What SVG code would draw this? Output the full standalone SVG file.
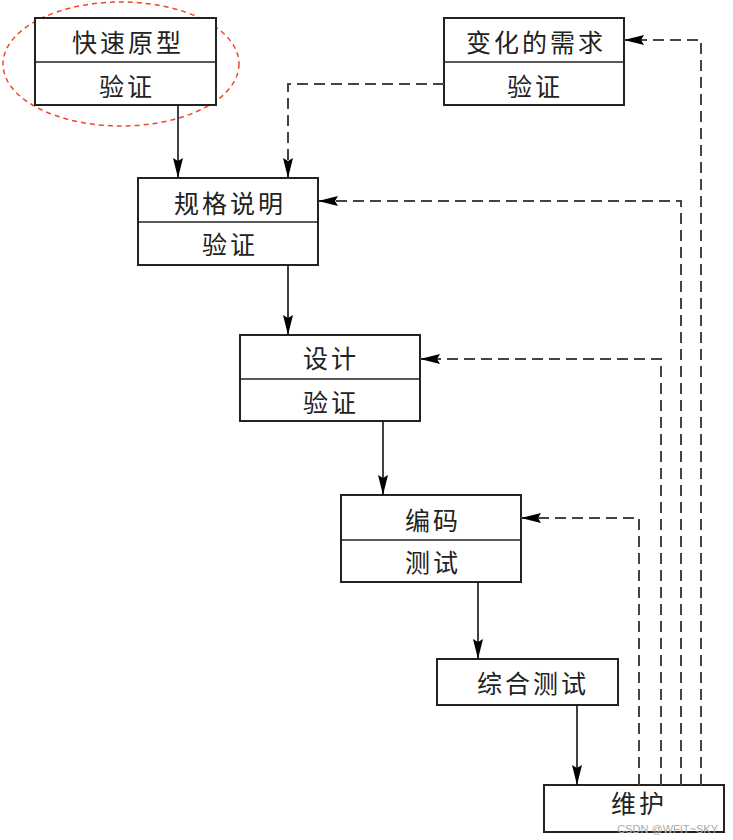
<svg xmlns="http://www.w3.org/2000/svg" width="733" height="840" viewBox="0 0 733 840">
<style>
.box{fill:#fff;stroke:#222;stroke-width:2}
.div{stroke:#222;stroke-width:1.6}
.t{font-family:"Noto Sans CJK SC","Liberation Serif",serif;font-size:25px;fill:#222;text-anchor:middle;dominant-baseline:central;letter-spacing:3px}
.s{fill:none;stroke:#111;stroke-width:1.6}
.d{fill:none;stroke:#444;stroke-width:2;stroke-dasharray:11 6}
</style>
<defs>
<marker id="ah" markerUnits="userSpaceOnUse" markerWidth="22" markerHeight="12" refX="20" refY="6" orient="auto">
<path d="M0,1 L20,6 L0,11 L3,6 Z" fill="#000"/>
</marker>
</defs>
<rect width="733" height="840" fill="#fff"/>
<ellipse cx="121" cy="64" rx="118" ry="62" fill="none" stroke="#f04a25" stroke-width="1.5" stroke-dasharray="5 4"/>
<g id="n1">
<rect class="box" x="35" y="18" width="181" height="87"/>
<line class="div" x1="35" y1="62" x2="216" y2="62"/>
<text class="t" x="128" y="41">快速原型</text>
<text class="t" x="127" y="85">验证</text>
</g>
<g id="n2">
<rect class="box" x="444" y="18" width="180" height="87"/>
<line class="div" x1="444" y1="62" x2="624" y2="62"/>
<text class="t" x="536" y="41">变化的需求</text>
<text class="t" x="535" y="85">验证</text>
</g>
<g id="n3">
<rect class="box" x="138" y="178" width="180" height="87"/>
<line class="div" x1="138" y1="222" x2="318" y2="222"/>
<text class="t" x="230" y="202">规格说明</text>
<text class="t" x="230" y="243">验证</text>
</g>
<g id="n4">
<rect class="box" x="240" y="335" width="180" height="86"/>
<line class="div" x1="240" y1="379" x2="420" y2="379"/>
<text class="t" x="331" y="357">设计</text>
<text class="t" x="331" y="401">验证</text>
</g>
<g id="n5">
<rect class="box" x="341" y="495" width="180" height="87"/>
<line class="div" x1="341" y1="540" x2="521" y2="540"/>
<text class="t" x="433" y="519">编码</text>
<text class="t" x="433" y="561">测试</text>
</g>
<g id="n6">
<rect class="box" x="437" y="659" width="181" height="46"/>
<text class="t" x="533" y="682">综合测试</text>
</g>
<g id="n7">
<rect class="box" x="544" y="785" width="180" height="47"/>
<text class="t" x="639" y="802">维护</text>
</g>
<g id="connectors">
<line class="s" x1="178" y1="105" x2="178" y2="178" marker-end="url(#ah)"/>
<polyline class="d" points="444,84 288,84 288,178" marker-end="url(#ah)"/>
<line class="s" x1="288" y1="265" x2="288" y2="335" marker-end="url(#ah)"/>
<line class="s" x1="383" y1="421" x2="383" y2="495" marker-end="url(#ah)"/>
<line class="s" x1="478" y1="582" x2="478" y2="659" marker-end="url(#ah)"/>
<line class="s" x1="577" y1="705" x2="577" y2="785" stroke-width="2.5" marker-end="url(#ah)"/>
<polyline class="d" points="639,785 639,518 521,518" marker-end="url(#ah)"/>
<polyline class="d" points="661,785 661,359 420,359" marker-end="url(#ah)"/>
<polyline class="d" points="681,785 681,201 318,201" marker-end="url(#ah)"/>
<polyline class="d" points="701,785 701,40 624,40" marker-end="url(#ah)"/>
</g>
<text x="718" y="833" font-family="Liberation Sans, sans-serif" font-size="11" fill="#aaa" text-anchor="end">CSDN @WFIT~SKY</text>
</svg>
